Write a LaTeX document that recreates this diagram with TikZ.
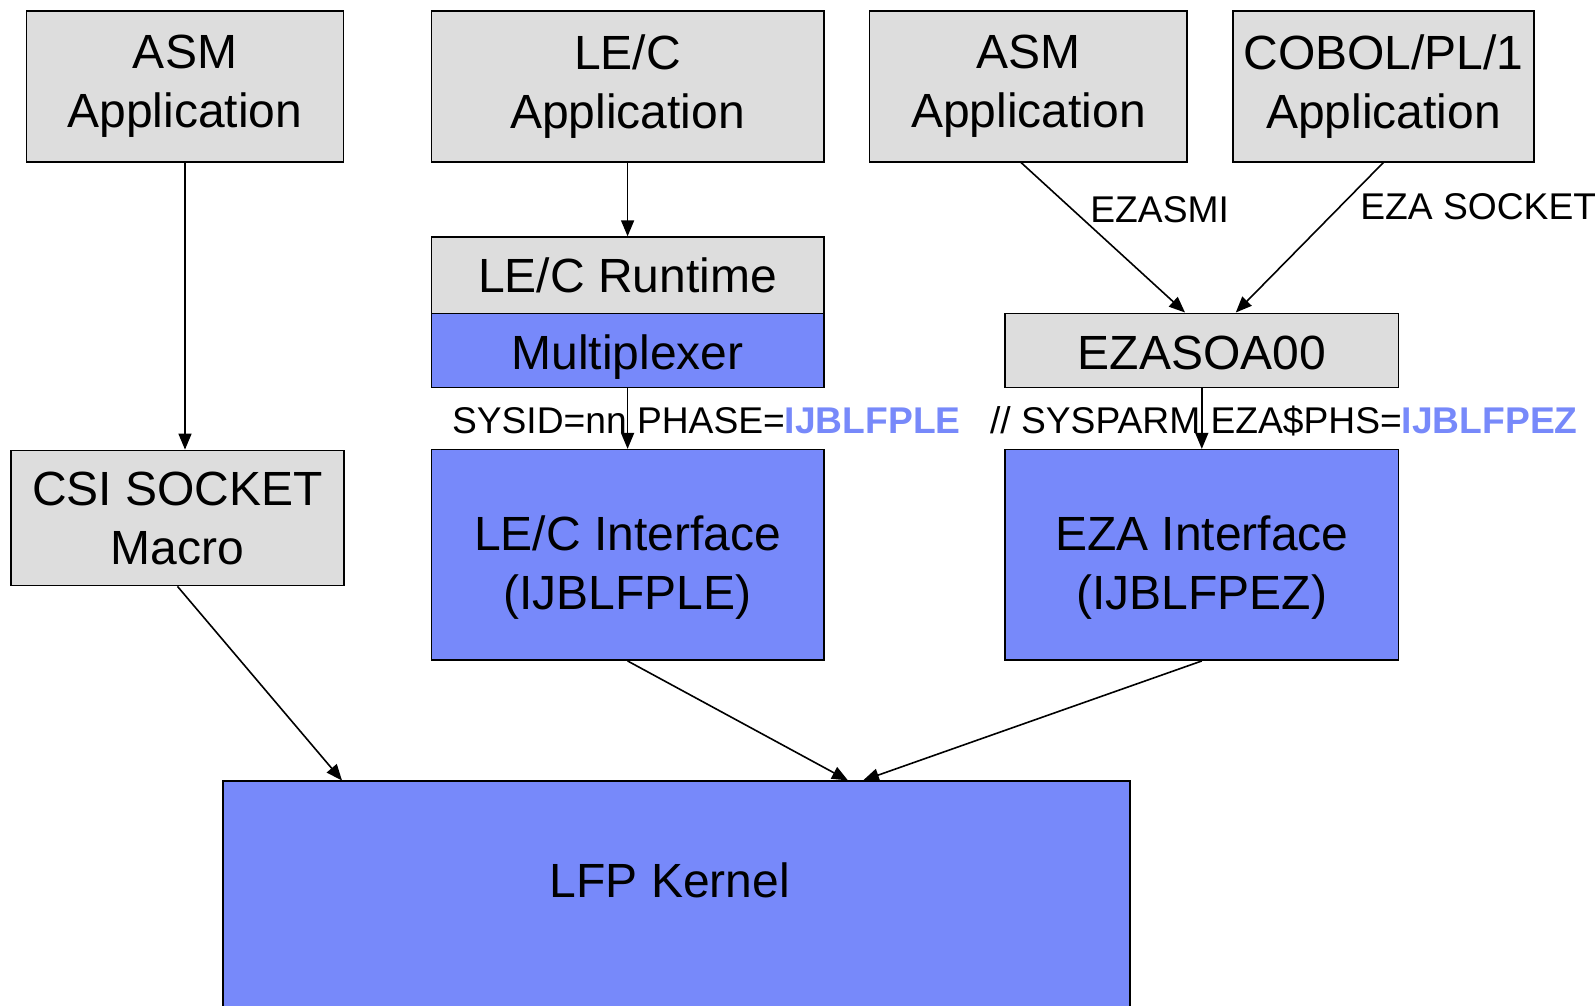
\documentclass[tikz,border=0pt]{standalone}
\usepackage{fontspec}
\setmainfont{Liberation Sans}
\usetikzlibrary{arrows.meta}
\definecolor{boxgray}{RGB}{221,221,221}
\definecolor{lfpblue}{RGB}{119,137,250}

\tikzset{
	boxtext/.style={align=center, inner sep=0pt, font=\fontsize{24}{29.5}\selectfont},
	box/.style={draw, line width=0.75pt, fill=boxgray, boxtext},
	bluebox/.style={box, fill=lfpblue},
	conn/.style={-{Triangle[length=8pt,width=6.5pt]}, line width=0.8pt},
	lbl/.style={inner sep=0pt, font=\fontsize{18.6}{22}\selectfont},
}

\begin{document}
\begin{tikzpicture}[x=0.5pt, y=-0.5pt]
	\useasboundingbox (0,0) rectangle (1595,1006);
	% applications
	\node[box, minimum width=158.5pt, minimum height=75.25pt] (asmA) at (185,86.5) {ASM\\Application};
	\node[box, minimum width=196.3pt, minimum height=75.25pt] (lecApp) at (627.6,86.5) {LE/C\\Application};
	\node[box, minimum width=158.7pt, minimum height=75.25pt] (asmB) at (1028.4,86.5) {ASM\\Application};
	\node[box, minimum width=150.5pt, minimum height=75.25pt] (cobol) at (1383.4,86.5) {COBOL/PL/1\\Application};
	% middle layer
	\node[box, minimum width=196.3pt, minimum height=38.15pt] (runtime) at (627.6,275.2) {LE/C Runtime};
	\node[bluebox, minimum width=196.3pt, minimum height=37.15pt,
		label={[boxtext, yshift=-3.5pt]center:Multiplexer}] (mux) at (627.6,350.4) {};
	\node[box, minimum width=196.8pt, minimum height=37.15pt,
		label={[boxtext, yshift=-1.5pt]center:EZASOA00}] (ezasoa) at (1201.8,350.4) {};
	\node[box, minimum width=166.3pt, minimum height=67.65pt] (csi) at (177.5,518) {CSI SOCKET\\Macro};
	\node[bluebox, minimum width=196.3pt, minimum height=105.3pt,
		label={[boxtext, yshift=-6.5pt]center:{LE/C Interface\\(IJBLFPLE)}}] (lecIf) at (627.6,554.9) {};
	\node[bluebox, minimum width=196.8pt, minimum height=105.3pt,
		label={[boxtext, yshift=-6.5pt]center:{EZA Interface\\(IJBLFPEZ)}}] (ezaIf) at (1201.8,554.9) {};
	% kernel
	\node[bluebox, minimum width=453.65pt, minimum height=124.4pt] (kernel) at (676.4,905.6) {};
	\node[boxtext] (kernelText) at (670,880) {LFP Kernel};
	% labels
	\node[lbl, anchor=west] (lecParm) at (451.6,421) {SYSID=nn PHASE=\textcolor{lfpblue}{\bfseries IJBLFPLE}};
	\node[lbl, anchor=west] (ezaParm) at (989.7,421) {// SYSPARM EZA\$PHS=\textcolor{lfpblue}{\bfseries IJBLFPEZ}};
	\node[lbl, anchor=west] (ezasmi) at (1090,209.5) {EZASMI};
	\node[lbl, anchor=west] (ezaSock) at (1360,206.5) {EZA SOCKET};
	% connectors
	\draw[conn] (asmA.south) -- (asmA.south |- csi.north);
	\draw[conn] (lecApp.south) -- (runtime.north);
	\draw[conn] (mux.south) -- (lecIf.north);
	\draw[conn] ([xshift=-3.7pt]asmB.south) -- ([xshift=-8.4pt]ezasoa.north);
	\draw[conn] (cobol.south) -- ([xshift=17pt]ezasoa.north);
	\draw[conn] (ezasoa.south) -- (ezaIf.north);
	\draw[conn] (csi.south) -- ([xshift=60pt]kernel.north west);
	\draw[conn] (lecIf.south) -- ([xshift=313pt]kernel.north west);
	\draw[conn] (ezaIf.south) -- ([xshift=320.5pt]kernel.north west);
\end{tikzpicture}
\end{document}
